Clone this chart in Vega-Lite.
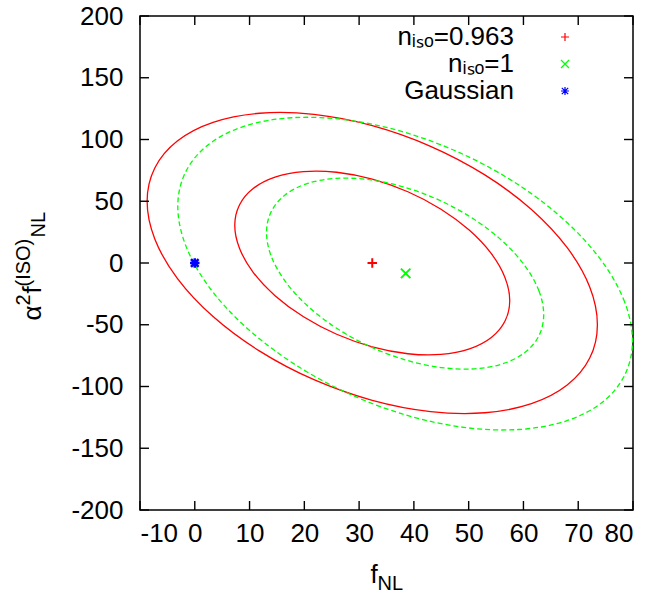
{
  "$schema": "https://vega.github.io/schema/vega-lite/v6.json",
  "autosize": {"type": "none"},
  "padding": {"left": 140, "top": 16, "right": 19, "bottom": 81},
  "width": 493,
  "height": 494,
  "background": "white",
  "config": {
    "font": "Liberation Sans",
    "view": {"stroke": "black", "strokeWidth": 1.5},
    "axis": {"domain": false, "grid": false, "ticks": false, "labelFontSize": 26, "labelColor": "black", "titleColor": "black", "titleFontWeight": "normal", "labelFont": "Liberation Sans", "titleFont": "Liberation Sans"},
    "legend": {"labelFont": "Liberation Sans"}
  },
  "datasets": {
    "xticks": [{"v": -10}, {"v": 0}, {"v": 10}, {"v": 20}, {"v": 30}, {"v": 40}, {"v": 50}, {"v": 60}, {"v": 70}, {"v": 80}],
    "yticks": [{"v": -200}, {"v": -150}, {"v": -100}, {"v": -50}, {"v": 0}, {"v": 50}, {"v": 100}, {"v": 150}, {"v": 200}],
    "red": [
      {"level": 1, "i": 0, "x": 57.5, "y": -30.5}, {"level": 1, "i": 1, "x": 56.64, "y": -11.89}, {"level": 1, "i": 2, "x": 54.14, "y": 7.54}, {"level": 1, "i": 3, "x": 50.15, "y": 26.44}, {"level": 1, "i": 4, "x": 44.95, "y": 43.55}, {"level": 1, "i": 5, "x": 38.9, "y": 57.69}, {"level": 1, "i": 6, "x": 32.4, "y": 67.9}, {"level": 1, "i": 7, "x": 25.9, "y": 73.47}, {"level": 1, "i": 8, "x": 19.85, "y": 74.05}, {"level": 1, "i": 9, "x": 14.65, "y": 69.58}, {"level": 1, "i": 10, "x": 10.66, "y": 60.36}, {"level": 1, "i": 11, "x": 8.16, "y": 47.03}, {"level": 1, "i": 12, "x": 7.3, "y": 30.5}, {"level": 1, "i": 13, "x": 8.16, "y": 11.89}, {"level": 1, "i": 14, "x": 10.66, "y": -7.54}, {"level": 1, "i": 15, "x": 14.65, "y": -26.44}, {"level": 1, "i": 16, "x": 19.85, "y": -43.55}, {"level": 1, "i": 17, "x": 25.9, "y": -57.69}, {"level": 1, "i": 18, "x": 32.4, "y": -67.9}, {"level": 1, "i": 19, "x": 38.9, "y": -73.47}, {"level": 1, "i": 20, "x": 44.95, "y": -74.05}, {"level": 1, "i": 21, "x": 50.15, "y": -69.58}, {"level": 1, "i": 22, "x": 54.14, "y": -60.36}, {"level": 1, "i": 23, "x": 56.64, "y": -47.03},
      {"level": 2, "i": 0, "x": 73.5, "y": -49.9}, {"level": 2, "i": 1, "x": 72.1, "y": -19.42}, {"level": 2, "i": 2, "x": 67.99, "y": 12.39}, {"level": 2, "i": 3, "x": 61.46, "y": 43.35}, {"level": 2, "i": 4, "x": 52.95, "y": 71.35}, {"level": 2, "i": 5, "x": 43.04, "y": 94.5}, {"level": 2, "i": 6, "x": 32.4, "y": 111.2}, {"level": 2, "i": 7, "x": 21.76, "y": 120.32}, {"level": 2, "i": 8, "x": 11.85, "y": 121.25}, {"level": 2, "i": 9, "x": 3.34, "y": 113.91}, {"level": 2, "i": 10, "x": -3.19, "y": 98.81}, {"level": 2, "i": 11, "x": -7.3, "y": 76.98}, {"level": 2, "i": 12, "x": -8.7, "y": 49.9}, {"level": 2, "i": 13, "x": -7.3, "y": 19.42}, {"level": 2, "i": 14, "x": -3.19, "y": -12.39}, {"level": 2, "i": 15, "x": 3.34, "y": -43.35}, {"level": 2, "i": 16, "x": 11.85, "y": -71.35}, {"level": 2, "i": 17, "x": 21.76, "y": -94.5}, {"level": 2, "i": 18, "x": 32.4, "y": -111.2}, {"level": 2, "i": 19, "x": 43.04, "y": -120.32}, {"level": 2, "i": 20, "x": 52.95, "y": -121.25}, {"level": 2, "i": 21, "x": 61.46, "y": -113.91}, {"level": 2, "i": 22, "x": 67.99, "y": -98.81}, {"level": 2, "i": 23, "x": 72.1, "y": -76.98}
    ],
    "green": [
      {"level": 1, "i": 0, "x": 63.7, "y": -41.9}, {"level": 1, "i": 1, "x": 62.84, "y": -22.7}, {"level": 1, "i": 2, "x": 60.31, "y": -2.54}, {"level": 1, "i": 3, "x": 56.29, "y": 17.21}, {"level": 1, "i": 4, "x": 51.05, "y": 35.2}, {"level": 1, "i": 5, "x": 44.95, "y": 50.2}, {"level": 1, "i": 6, "x": 38.4, "y": 61.2}, {"level": 1, "i": 7, "x": 31.85, "y": 67.44}, {"level": 1, "i": 8, "x": 25.75, "y": 68.5}, {"level": 1, "i": 9, "x": 20.51, "y": 64.31}, {"level": 1, "i": 10, "x": 16.49, "y": 55.14}, {"level": 1, "i": 11, "x": 13.96, "y": 41.62}, {"level": 1, "i": 12, "x": 13.1, "y": 24.7}, {"level": 1, "i": 13, "x": 13.96, "y": 5.5}, {"level": 1, "i": 14, "x": 16.49, "y": -14.66}, {"level": 1, "i": 15, "x": 20.51, "y": -34.41}, {"level": 1, "i": 16, "x": 25.75, "y": -52.4}, {"level": 1, "i": 17, "x": 31.85, "y": -67.4}, {"level": 1, "i": 18, "x": 38.4, "y": -78.4}, {"level": 1, "i": 19, "x": 44.95, "y": -84.64}, {"level": 1, "i": 20, "x": 51.05, "y": -85.7}, {"level": 1, "i": 21, "x": 56.29, "y": -81.51}, {"level": 1, "i": 22, "x": 60.31, "y": -72.34}, {"level": 1, "i": 23, "x": 62.84, "y": -58.82},
      {"level": 2, "i": 0, "x": 79.9, "y": -63.1}, {"level": 2, "i": 1, "x": 78.48, "y": -31.66}, {"level": 2, "i": 2, "x": 74.34, "y": 1.35}, {"level": 2, "i": 3, "x": 67.74, "y": 33.68}, {"level": 2, "i": 4, "x": 59.15, "y": 63.13}, {"level": 2, "i": 5, "x": 49.14, "y": 87.7}, {"level": 2, "i": 6, "x": 38.4, "y": 105.7}, {"level": 2, "i": 7, "x": 27.66, "y": 115.9}, {"level": 2, "i": 8, "x": 17.65, "y": 117.63}, {"level": 2, "i": 9, "x": 9.06, "y": 110.76}, {"level": 2, "i": 10, "x": 2.46, "y": 95.75}, {"level": 2, "i": 11, "x": -1.68, "y": 73.62}, {"level": 2, "i": 12, "x": -3.1, "y": 45.9}, {"level": 2, "i": 13, "x": -1.68, "y": 14.46}, {"level": 2, "i": 14, "x": 2.46, "y": -18.55}, {"level": 2, "i": 15, "x": 9.06, "y": -50.88}, {"level": 2, "i": 16, "x": 17.65, "y": -80.33}, {"level": 2, "i": 17, "x": 27.66, "y": -104.9}, {"level": 2, "i": 18, "x": 38.4, "y": -122.9}, {"level": 2, "i": 19, "x": 49.14, "y": -133.1}, {"level": 2, "i": 20, "x": 59.15, "y": -134.83}, {"level": 2, "i": 21, "x": 67.74, "y": -127.96}, {"level": 2, "i": 22, "x": 74.34, "y": -112.95}, {"level": 2, "i": 23, "x": 78.48, "y": -90.82}
    ],
    "fits": [
      {"label": "nᵢₛₒ=0.963", "x": 32.4, "y": 0},
      {"label": "nᵢₛₒ=1", "x": 38.5, "y": -8.4}
    ],
    "gauss": [
      {"label": "Gaussian", "x": 0, "y": 0}
    ]
  },
  "resolve": {"axis": {"x": "independent", "y": "independent"}},
  "layer": [
    {
      "data": {"name": "red"},
      "mark": {"type": "line", "color": "#ff0000", "strokeWidth": 1.3, "interpolate": "cardinal-closed"},
      "encoding": {
        "x": {"field": "x", "type": "quantitative", "scale": {"domain": [-10, 80], "nice": false, "zero": false, "padding": 0},
          "axis": {"orient": "bottom", "labelPadding": 10, "labelExpr": "'' + datum.value", "values": [-10, 0, 10, 20, 30, 40, 50, 60, 70, 80], "title": "f", "titleFontSize": 26, "titleAngle": 0, "titleAlign": "left", "titleBaseline": "alphabetic", "titleX": 230, "titleY": 72}},
        "y": {"field": "y", "type": "quantitative", "scale": {"domain": [-200, 200], "nice": false, "zero": false, "padding": 0},
          "axis": {"orient": "left", "labelPadding": 17, "labelExpr": "'' + datum.value", "values": [-200, -150, -100, -50, 0, 50, 100, 150, 200], "title": "α", "titleFontSize": 26, "titleAngle": -90, "titleAlign": "left", "titleBaseline": "alphabetic", "titleX": -100, "titleY": 304}},
        "detail": {"field": "level", "type": "nominal"},
        "order": {"field": "i", "type": "quantitative"}
      }
    },
    {
      "data": {"name": "green"},
      "mark": {"type": "line", "color": "#00ff00", "strokeWidth": 1.3, "strokeDash": [5, 3], "interpolate": "cardinal-closed"},
      "encoding": {
        "x": {"field": "x", "type": "quantitative",
          "axis": {"orient": "top", "labels": false, "title": "2", "titleFontSize": 20, "titleAngle": -90, "titleAlign": "left", "titleBaseline": "alphabetic", "titleX": -111, "titleY": 289}},
        "y": {"field": "y", "type": "quantitative",
          "axis": {"orient": "right", "labels": false, "title": "f", "titleFontSize": 26, "titleAngle": -90, "titleAlign": "left", "titleBaseline": "alphabetic", "titleX": -593, "titleY": 277}},
        "detail": {"field": "level", "type": "nominal"},
        "order": {"field": "i", "type": "quantitative"}
      }
    },
    {
      "data": {"name": "xticks"},
      "mark": {"type": "bar", "color": "black", "width": 1.4, "orient": "vertical"},
      "encoding": {
        "x": {"field": "v", "type": "quantitative", "axis": null},
        "y": {"datum": -200, "type": "quantitative", "axis": null},
        "y2": {"datum": -192.7}
      }
    },
    {
      "data": {"name": "xticks"},
      "mark": {"type": "bar", "color": "black", "width": 1.4, "orient": "vertical"},
      "encoding": {
        "x": {"field": "v", "type": "quantitative", "axis": null},
        "y": {"datum": 200, "type": "quantitative", "axis": null},
        "y2": {"datum": 192.7}
      }
    },
    {
      "data": {"name": "yticks"},
      "mark": {"type": "bar", "color": "black", "height": 1.4, "orient": "horizontal"},
      "encoding": {
        "y": {"field": "v", "type": "quantitative", "axis": null},
        "x": {"datum": -10, "type": "quantitative", "axis": null},
        "x2": {"datum": -8.36}
      }
    },
    {
      "data": {"name": "yticks"},
      "mark": {"type": "bar", "color": "black", "height": 1.4, "orient": "horizontal"},
      "encoding": {
        "y": {"field": "v", "type": "quantitative", "axis": null},
        "x": {"datum": 80, "type": "quantitative", "axis": null},
        "x2": {"datum": 78.36}
      }
    },
    {
      "data": {"name": "fits"},
      "mark": {"type": "point", "filled": false, "strokeWidth": 2, "size": 90, "opacity": 1},
      "encoding": {
        "x": {"field": "x", "type": "quantitative",
          "axis": {"orient": "bottom", "labels": false, "title": "NL", "titleFontSize": 20, "titleAngle": 0, "titleAlign": "left", "titleBaseline": "alphabetic", "titleX": 237, "titleY": 79}},
        "y": {"field": "y", "type": "quantitative",
          "axis": {"orient": "left", "labels": false, "title": "(ISO)", "titleFontSize": 20, "titleAngle": -90, "titleAlign": "left", "titleBaseline": "alphabetic", "titleX": -111, "titleY": 270}},
        "color": {"field": "label", "type": "nominal",
          "scale": {"domain": ["nᵢₛₒ=0.963", "nᵢₛₒ=1", "Gaussian"], "range": ["#ff0000", "#00ff00", "#0000ff"]},
          "legend": {"title": null, "orient": "none", "legendX": 412, "legendY": 8, "labelFontSize": 26, "labelColor": "black", "labelAlign": "right", "labelOffset": -64, "symbolSize": 64, "symbolStrokeWidth": 1.2, "rowPadding": 1}},
        "shape": {"field": "label", "type": "nominal",
          "scale": {"domain": ["nᵢₛₒ=0.963", "nᵢₛₒ=1", "Gaussian"], "range": ["M-1,0L1,0M0,-1L0,1", "M-1,-1L1,1M-1,1L1,-1", "M-1,0L1,0M0,-1L0,1M-0.8,-0.8L0.8,0.8M-0.8,0.8L0.8,-0.8"]},
          "legend": {"title": null, "orient": "none", "legendX": 412, "legendY": 8, "labelFontSize": 26, "labelColor": "black", "labelAlign": "right", "labelOffset": -64, "symbolSize": 64, "symbolStrokeWidth": 1.2, "rowPadding": 1}}
      }
    },
    {
      "data": {"name": "gauss"},
      "mark": {"type": "point", "filled": false, "strokeWidth": 2.5, "size": 90, "opacity": 1},
      "encoding": {
        "x": {"field": "x", "type": "quantitative",
          "axis": {"orient": "top", "labels": false, "title": "NL", "titleFontSize": 20, "titleAngle": -90, "titleAlign": "left", "titleBaseline": "alphabetic", "titleX": -96, "titleY": 221}},
        "y": {"field": "y", "type": "quantitative", "axis": null},
        "color": {"field": "label", "type": "nominal"},
        "shape": {"field": "label", "type": "nominal"}
      }
    }
  ]
}
